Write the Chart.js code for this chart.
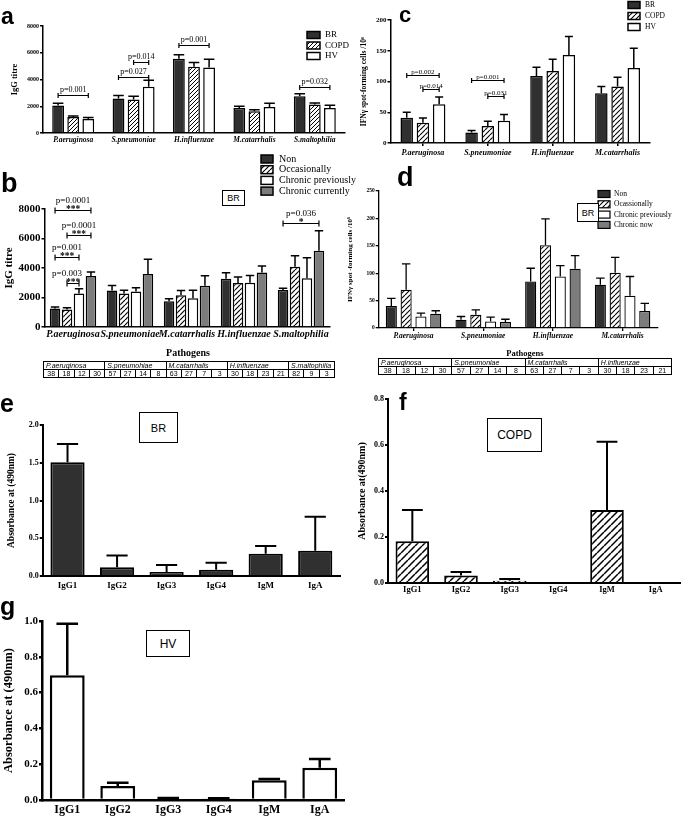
<!DOCTYPE html>
<html>
<head>
<meta charset="utf-8">
<script src="https://cdn.jsdelivr.net/npm/chart.js@4.4.1/dist/chart.umd.min.js"></script>
<style>
  body { margin: 0; width: 685px; height: 818px; position: relative; overflow: hidden; background: #fff; }
  canvas { position: absolute; }
  .tag { position: absolute; font-family: 'Liberation Sans', Arial, sans-serif; font-weight: bold; line-height: 1; }
  .box { position: absolute; border: 1px solid #000; box-sizing: border-box; background: #fff;
         font-family: 'Liberation Sans', Arial, sans-serif; display: flex; align-items: center; justify-content: center; }
  .cap { position: absolute; font-family: 'Liberation Serif', serif; font-weight: bold; transform: translate(-50%, -50%); white-space: nowrap; }
  table.n { position: absolute; border-collapse: collapse; table-layout: fixed; font-family: 'Liberation Sans', Arial, sans-serif; font-size: 7px; }
  table.n td { border: 1px solid #000; padding: 0 2px; text-align: center; overflow: hidden; white-space: nowrap; }
  table.n td.nm { text-align: left; font-style: italic; }
</style>
</head>
<body>
<canvas id="chartA"></canvas>
<canvas id="chartC"></canvas>
<canvas id="chartB"></canvas>
<canvas id="chartD"></canvas>
<canvas id="chartE"></canvas>
<canvas id="chartF"></canvas>
<canvas id="chartG"></canvas>

<div class="tag" style="left:1px;top:5px;font-size:23px">a</div>
<div class="tag" style="left:1px;top:170px;font-size:27px">b</div>
<div class="tag" style="left:399px;top:4px;font-size:22px">c</div>
<div class="tag" style="left:397px;top:164px;font-size:27px">d</div>
<div class="tag" style="left:0px;top:391px;font-size:25px">e</div>
<div class="tag" style="left:399px;top:391px;font-size:23px">f</div>
<div class="tag" style="left:0px;top:594px;font-size:25px">g</div>

<div class="box" style="left:222px;top:190px;width:23px;height:16px;font-size:9px">BR</div>
<div class="box" style="left:577px;top:203px;width:22px;height:19px;font-size:9px">BR</div>
<div class="box" style="left:139px;top:412px;width:39px;height:31px;font-size:11px">BR</div>
<div class="box" style="left:487px;top:418px;width:55px;height:34px;font-size:12px">COPD</div>
<div class="box" style="left:146px;top:630px;width:44px;height:27px;font-size:12px">HV</div>

<div class="cap" style="left:188px;top:352px;font-size:10px">Pathogens</div>
<table class="n" id="tableB" style="left:43px;top:361px;width:292px"></table>
<div class="cap" style="left:525px;top:353px;font-size:8.5px">Pathogens</div>
<table class="n" id="tableD" style="left:378px;top:358px;width:294px"></table>

<script>
// ---- data ----
var groupsABC = ['BR', 'COPD', 'HV'];
var smokeB = ['Non', 'Occasionally', 'Chronic previously', 'Chronic currently'];
var smokeD = ['Non', 'Ocassionally', 'Chronic previously', 'Chronic now'];

// a: IgG titre by group
var catsA = ['P.aeruginosa', 'S.pneumoniae', 'H.influenzae', 'M.catarrhalis', 'S.maltophilia'];
var aBR = [2050, 2580, 5550, 1870, 2750];
var aBRSem = [170, 220, 300, 130, 180];
var aCOPD = [1200, 2500, 4950, 1620, 2130];
var aCOPDSem = [80, 250, 330, 120, 120];
var aHV = [1050, 3450, 4900, 1950, 1870];
var aHVSem = [100, 500, 620, 280, 200];
var aTicks = [0, 8000, 2000];
var aSig = [
  { cat: 0, from: 0, to: 2, y: 2875, text: 'p=0.001' },
  { cat: 1, from: 0, to: 2, y: 4175, text: 'p=0.027' },
  { cat: 1, from: 1, to: 2, y: 5300, text: 'p=0.014' },
  { cat: 2, from: 0, to: 2, y: 6575, text: 'p=0.001' },
  { cat: 4, from: 0, to: 2, y: 3425, text: 'p=0.032' }
];

// c: IFNy spot-forming cells by group
var catsC = ['P.aeruginosa', 'S.pneumoniae', 'H.influenzae', 'M.catarrhalis'];
var cBR = [41, 17, 109, 81];
var cBRSem = [9, 3.5, 14, 11];
var cCOPD = [33, 27.5, 117, 92];
var cCOPDSem = [7.5, 8, 19, 15];
var cHV = [63, 36, 143, 122];
var cHVSem = [12, 10.5, 30, 32];
var cTicks = [0, 200, 50];
var cSig = [
  { cat: 0, from: 0, to: 2, y: 111, text: 'p=0.002' },
  { cat: 0, from: 1, to: 2, y: 88, text: 'p=0.014' },
  { cat: 1, from: 0, to: 2, y: 103, text: 'p=0.001' },
  { cat: 1, from: 1, to: 2, y: 76, text: 'p=0.031' }
];

// b: IgG titre in BR by smoking/colonisation
var catsB = ['P.aeruginosa', 'S.pneumoniae', 'M.catarrhalis', 'H.influenzae', 'S.maltophilia'];
var bNon = [1250, 2480, 1750, 3270, 2510];
var bNonSem = [110, 340, 160, 410, 120];
var bOcc = [1180, 2270, 2160, 2980, 4090];
var bOccSem = [120, 230, 320, 410, 740];
var bPrev = [2270, 2410, 1950, 3000, 3300];
var bPrevSem = [320, 250, 550, 500, 1400];
var bCur = [3450, 3590, 2800, 3700, 5170];
var bCurSem = [280, 1000, 680, 440, 1360];
var bTicks = [0, 8000, 2000];
var bSig = [
  { cat: 0, from: 0, to: 3, y: 7930, text: 'p=0.0001', stars: '***' },
  { cat: 0, from: 1, to: 3, y: 6230, text: 'p=0.0001', stars: '***' },
  { cat: 0, from: 0, to: 2, y: 4750, text: 'p=0.001', stars: '***' },
  { cat: 0, from: 1, to: 2, y: 2950, text: 'p=0.003', stars: '***', dx: -6 },
  { cat: 4, from: 0, to: 3, y: 7030, text: 'p=0.036', stars: '*' }
];

// d: IFNy spot-forming cells in BR
var catsD = ['P.aeruginosa', 'S.pneumoniae', 'H.influenzae', 'M.catarrhalis'];
var dNon = [40, 15, 85, 79];
var dNonSem = [14, 6, 24, 12];
var dOcc = [70, 24, 151, 101];
var dOccSem = [47, 9, 48, 28];
var dPrev = [21, 12, 94, 59];
var dPrevSem = [6, 8, 20, 35];
var dCur = [26, 11, 108, 31];
var dCurSem = [5.5, 5, 24, 14];
var dTicks = [0, 250, 50];

// tables under b and d (patient numbers)
var tableNamesB = ['P.aeruginosa', 'S.pneumohiae', 'M.catarrhalis', 'H.influenzae', 'S.maltophilia'];
var tableCountsB = [[38, 18, 12, 30], [57, 27, 14, 8], [63, 27, 7, 3], [30, 18, 23, 21], [82, 9, 3]];
var tableNamesD = ['P.aeruginosa', 'S.pneumoniae', 'M.catarrhalis', 'H.influenzae'];
var tableCountsD = [[38, 18, 12, 30], [57, 27, 14, 8], [63, 27, 7, 3], [30, 18, 23, 21]];

// e, f, g: antibody isotypes
var isotypes = ['IgG1', 'IgG2', 'IgG3', 'IgG4', 'IgM', 'IgA'];
var eBR = [1.506, 0.115, 0.053, 0.084, 0.296, 0.335];
var eBRSem = [0.244, 0.155, 0.093, 0.093, 0.101, 0.451];
var fCOPD = [0.182, 0.033, 0.010, 0, 0.317, 0];
var fCOPDSem = [0.135, 0.015, 0.007, 0, 0.297, 0];
var gHV = [0.697, 0.078, 0.007, 0.006, 0.111, 0.180];
var gHVSem = [0.288, 0.019, 0.004, 0.004, 0.006, 0.049];
var eTicks = [0, 2, 0.5];
var fTicks = [0, 0.8, 0.2];
var gTicks = [0, 1, 0.2];

var SERIF = "'Liberation Serif', 'Times New Roman', serif";
var DARK = '#303030';
var GREY = '#7c7c7c';

// diagonal hatch fill
function hatch(size, lw) {
  var c = document.createElement('canvas');
  c.width = size;
  c.height = size;
  var g = c.getContext('2d');
  g.fillStyle = '#fff';
  g.fillRect(0, 0, size, size);
  g.strokeStyle = '#000';
  g.lineWidth = lw;
  g.beginPath();
  [-size, 0, size].forEach(function (x) {
    g.moveTo(x, size);
    g.lineTo(x + size, 0);
  });
  g.stroke();
  return g.createPattern(c, 'repeat');
}

// upper error bars (mean + SEM)
var errorBarPlugin = {
  id: 'errorBars',
  afterDatasetsDraw: function (chart, args, opts) {
    var ctx = chart.ctx;
    var yScale = chart.scales.y;
    chart.data.datasets.forEach(function (ds, i) {
      if (!ds.errors) return;
      chart.getDatasetMeta(i).data.forEach(function (bar, j) {
        var e = ds.errors[j];
        if (!e) return;
        var yTop = yScale.getPixelForValue(ds.data[j] + e);
        var half = bar.width * (opts.cap || 0.35);
        ctx.save();
        ctx.strokeStyle = '#000';
        ctx.lineWidth = opts.lineWidth || 1.5;
        ctx.beginPath();
        ctx.moveTo(bar.x, bar.y);
        ctx.lineTo(bar.x, yTop);
        ctx.moveTo(bar.x - half, yTop);
        ctx.lineTo(bar.x + half, yTop);
        ctx.stroke();
        ctx.restore();
      });
    });
  }
};

// significance brackets with p-values
var bracketPlugin = {
  id: 'brackets',
  afterDatasetsDraw: function (chart, args, opts) {
    if (!opts.items) return;
    var ctx = chart.ctx;
    var yScale = chart.scales.y;
    opts.items.forEach(function (b) {
      var x1 = chart.getDatasetMeta(b.from).data[b.cat].x;
      var x2 = chart.getDatasetMeta(b.to).data[b.cat].x;
      var py = Math.round(yScale.getPixelForValue(b.y)) + 0.5;
      var t = opts.tick || 2.5;
      var mid = (x1 + x2) / 2;
      ctx.save();
      ctx.strokeStyle = '#000';
      ctx.lineWidth = opts.lineWidth || 1.2;
      ctx.beginPath();
      ctx.moveTo(x1, py);
      ctx.lineTo(x2, py);
      ctx.moveTo(x1, py - t);
      ctx.lineTo(x1, py + t);
      ctx.moveTo(x2, py - t);
      ctx.lineTo(x2, py + t);
      ctx.stroke();
      ctx.fillStyle = '#000';
      ctx.textAlign = 'center';
      ctx.textBaseline = 'alphabetic';
      ctx.font = opts.size + 'px ' + SERIF;
      ctx.fillText(b.text, mid + (b.dx || 0), py - opts.gap);
      if (b.stars) {
        ctx.font = 'bold ' + opts.starSize + 'px ' + SERIF;
        ctx.fillText(b.stars, mid, py + 1.5);
      }
      ctx.restore();
    });
  }
};

// legend drawn at a fixed spot inside the panel
var boxLegendPlugin = {
  id: 'boxLegend',
  afterDraw: function (chart, args, opts) {
    if (opts.x === undefined) return;
    var ctx = chart.ctx;
    ctx.save();
    ctx.font = opts.size + 'px ' + SERIF;
    ctx.textBaseline = 'middle';
    chart.data.datasets.forEach(function (ds, i) {
      var y = opts.y + i * opts.step;
      ctx.fillStyle = ds.backgroundColor;
      ctx.fillRect(opts.x, y - opts.h / 2, opts.w, opts.h);
      ctx.strokeStyle = '#000';
      ctx.lineWidth = opts.lineWidth || 1.5;
      ctx.strokeRect(opts.x, y - opts.h / 2, opts.w, opts.h);
      ctx.fillStyle = '#000';
      ctx.fillText(ds.label, opts.x + opts.w + opts.pad, y);
    });
    ctx.restore();
  }
};

Chart.register(errorBarPlugin, bracketPlugin, boxLegendPlugin);

function series(label, data, errors, fill, lw) {
  return {
    label: label,
    data: data,
    errors: errors,
    backgroundColor: fill,
    borderColor: '#000',
    borderWidth: lw,
    borderSkipped: 'start'
  };
}

// builds one panel; box = canvas on the page, plot = wanted plot area on the page
function makePanel(id, box, plot, labels, datasets, o) {
  var canvas = document.getElementById(id);
  canvas.width = box.w;
  canvas.height = box.h;
  canvas.style.left = box.x + 'px';
  canvas.style.top = box.y + 'px';
  var axisW = plot.left - box.x;
  var axisH = box.y + box.h - plot.bottom;

  return new Chart(canvas.getContext('2d'), {
    type: 'bar',
    data: { labels: labels, datasets: datasets },
    options: {
      responsive: false,
      animation: false,
      categoryPercentage: o.catPct,
      barPercentage: o.barPct,
      layout: { padding: { left: 0, top: plot.top - box.y, right: box.x + box.w - plot.right, bottom: 0 } },
      plugins: {
        legend: { display: false },
        tooltip: { enabled: false },
        errorBars: { cap: o.cap, lineWidth: o.lw },
        brackets: o.brackets || {},
        boxLegend: o.legend || {}
      },
      scales: {
        x: {
          afterFit: function (s) { s.height = axisH; },
          grid: { display: !!o.xTicks, drawOnChartArea: false, drawTicks: !!o.xTicks, tickLength: 3, offset: false, color: '#000', lineWidth: o.lw },
          border: { display: true, color: '#000', width: o.lw },
          ticks: {
            color: '#000', padding: o.xPad, maxRotation: 0, autoSkip: false,
            font: { family: SERIF, size: o.xSize, weight: 'bold', style: o.italic ? 'italic' : 'normal' }
          }
        },
        y: {
          min: o.ticks[0],
          max: o.ticks[1],
          afterFit: function (s) { s.width = axisW; },
          grid: { display: true, drawOnChartArea: false, drawTicks: true, tickLength: 3, color: '#000', lineWidth: o.lw },
          border: { display: true, color: '#000', width: o.lw },
          ticks: {
            stepSize: o.ticks[2], color: '#000', padding: 1,
            font: { family: SERIF, size: o.ySize, weight: 'bold' },
            callback: function (v) { return o.decimals ? v.toFixed(1) : v; }
          },
          title: {
            display: true, text: o.title, color: '#000',
            padding: { top: o.titlePad, bottom: 0 },
            font: { family: SERIF, size: o.titleSize, weight: 'bold' }
          }
        }
      }
    }
  });
}

function buildTable(id, names, counts) {
  var t = document.getElementById(id);
  var r1 = t.insertRow();
  var r2 = t.insertRow();
  names.forEach(function (n, i) {
    var c = r1.insertCell();
    c.colSpan = counts[i].length;
    c.className = 'nm';
    c.textContent = n;
    counts[i].forEach(function (v) {
      var d = r2.insertCell();
      d.textContent = v;
    });
  });
}

// panel a
makePanel('chartA', { x: 0, y: 0, w: 365, h: 150 }, { left: 43, right: 345, top: 26, bottom: 133 }, catsA, [
  series(groupsABC[0], aBR, aBRSem, DARK, 1.5),
  series(groupsABC[1], aCOPD, aCOPDSem, hatch(4, 1), 1.5),
  series(groupsABC[2], aHV, aHVSem, '#fff', 1.5)
], {
  catPct: 0.75, barPct: 0.78, cap: 0.45, lw: 1.5, ticks: aTicks, decimals: false,
  xSize: 7.5, ySize: 6, italic: true, xPad: 3, title: 'IgG titre', titleSize: 8.5, titlePad: 10,
  brackets: { items: aSig, size: 8, gap: 4, tick: 2.5 },
  legend: { x: 307, y: 35, step: 10.5, w: 13, h: 7, pad: 5, size: 9 }
});

// panel c
makePanel('chartC', { x: 345, y: 0, w: 340, h: 160 }, { left: 390.5, right: 650, top: 20, bottom: 143 }, catsC, [
  series(groupsABC[0], cBR, cBRSem, DARK, 1.5),
  series(groupsABC[1], cCOPD, cCOPDSem, hatch(5, 1.1), 1.5),
  series(groupsABC[2], cHV, cHVSem, '#fff', 1.5)
], {
  catPct: 0.75, barPct: 0.77, cap: 0.32, lw: 1.5, ticks: cTicks, decimals: false, xTicks: true,
  xSize: 8, ySize: 7, italic: true, xPad: 2, title: 'IFNγ spot-forming cells /10⁶', titleSize: 7.5, titlePad: 15,
  brackets: { items: cSig, size: 7, gap: 2, tick: 2.5 },
  legend: { x: 283, y: 5, step: 11, w: 12, h: 7, pad: 5, size: 7.5 }
});

// panel b
makePanel('chartB', { x: 0, y: 150, w: 375, h: 192 }, { left: 44.5, right: 329.5, top: 209, bottom: 327 }, catsB, [
  series(smokeB[0], bNon, bNonSem, DARK, 1.5),
  series(smokeB[1], bOcc, bOccSem, hatch(5, 1.2), 1.5),
  series(smokeB[2], bPrev, bPrevSem, '#fff', 1.5),
  series(smokeB[3], bCur, bCurSem, GREY, 1.5)
], {
  catPct: 0.84, barPct: 0.88, cap: 0.4, lw: 1.5, ticks: bTicks, decimals: false,
  xSize: 10, ySize: 11, italic: true, xPad: 1, title: 'IgG titre', titleSize: 11, titlePad: 3,
  brackets: { items: bSig, size: 9, gap: 8, tick: 3, starSize: 9.5 },
  legend: { x: 261, y: 9, step: 10.7, w: 12, h: 8, pad: 6, size: 10 }
});

// panel d
makePanel('chartD', { x: 345, y: 150, w: 340, h: 192 }, { left: 378.7, right: 657.4, top: 191, bottom: 328 }, catsD, [
  series(smokeD[0], dNon, dNonSem, DARK, 1.3),
  series(smokeD[1], dOcc, dOccSem, hatch(5, 1.1), 1.3),
  series(smokeD[2], dPrev, dPrevSem, '#fff', 1.3),
  series(smokeD[3], dCur, dCurSem, GREY, 1.3)
], {
  catPct: 0.85, barPct: 0.75, cap: 0.38, lw: 1.3, ticks: dTicks, decimals: false, xTicks: true,
  xSize: 7.5, ySize: 5.5, italic: true, xPad: 1, title: 'IFNγ spot -forming cells /10⁶', titleSize: 7, titlePad: 1,
  legend: { x: 253, y: 44, step: 10.3, w: 12, h: 7, pad: 4, size: 7.5, lineWidth: 1.2 }
});

// panel e
makePanel('chartE', { x: 0, y: 395, w: 345, h: 205 }, { left: 42.75, right: 340, top: 425, bottom: 576 }, isotypes, [
  series('BR', eBR, eBRSem, DARK, 2)
], {
  catPct: 0.69, barPct: 1, cap: 0.31, lw: 2, ticks: eTicks, decimals: true,
  xSize: 9, ySize: 8, italic: false, xPad: 4, title: 'Absorbance at (490nm)', titleSize: 9.5, titlePad: 6
});

// panel f
makePanel('chartF', { x: 345, y: 385, w: 340, h: 215 }, { left: 388, right: 680, top: 399, bottom: 583 }, isotypes, [
  series('COPD', fCOPD, fCOPDSem, hatch(7, 1.5), 2)
], {
  catPct: 0.69, barPct: 1, cap: 0.31, lw: 2, ticks: fTicks, decimals: true,
  xSize: 8.5, ySize: 8, italic: false, xPad: 2, title: 'Absorbance at(490nm)', titleSize: 10, titlePad: 11
});

// panel g
makePanel('chartG', { x: 0, y: 600, w: 345, h: 218 }, { left: 42, right: 345, top: 621, bottom: 800 }, isotypes, [
  series('HV', gHV, gHVSem, '#fff', 2.5)
], {
  catPct: 0.69, barPct: 1, cap: 0.31, lw: 2.5, ticks: gTicks, decimals: true,
  xSize: 12, ySize: 11, italic: false, xPad: 3, title: 'Absorbance at (490nm)', titleSize: 12.5, titlePad: 1
});

buildTable('tableB', tableNamesB, tableCountsB);
buildTable('tableD', tableNamesD, tableCountsD);
</script>
</body>
</html>
